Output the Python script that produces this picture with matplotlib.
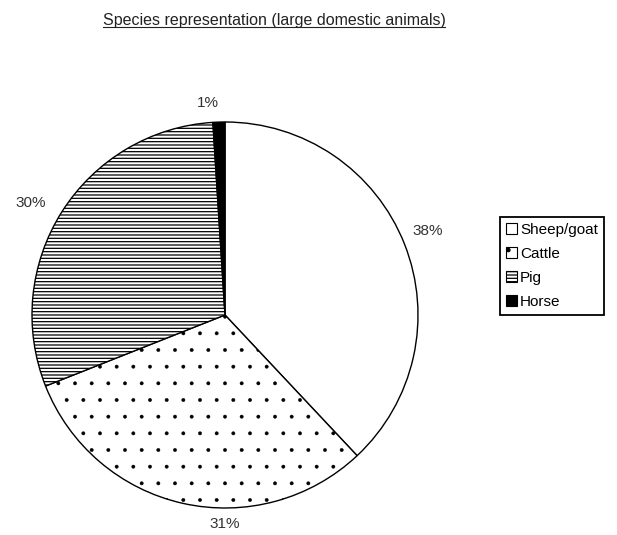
import matplotlib.pyplot as plt
from matplotlib.patches import Patch
from matplotlib.lines import Line2D

plt.rcParams["font.family"] = ["Liberation Sans", "DejaVu Sans"]
plt.rcParams["hatch.linewidth"] = 0.9

species = ["Sheep/goat", "Cattle", "Pig", "Horse"]
shares = [38, 31, 30, 1]
hatches = ["", ".", "-----", ""]
colors = ["white", "white", "white", "black"]
# label spots in pie-radius units (Excel put them a bit off the mid angles)
label_xy = [(1.05, 0.435), (0.0, -1.083), (-1.005, 0.58), (-0.088, 1.10)]

W, H = 617, 535
cx, cy, r = 225, 315, 193

fig = plt.figure(figsize=(W / 100, H / 100), dpi=100)
ax = fig.add_axes([0, 0, 1, 1])

wedges, _ = ax.pie(shares, startangle=90, counterclock=False, radius=1,
                   colors=colors, wedgeprops=dict(edgecolor="black", linewidth=1))
for w, h in zip(wedges, hatches):
    w.set_hatch(h)
# the dots are tiny in the original
if hasattr(wedges[1], "set_hatch_linewidth"):
    wedges[1].set_hatch_linewidth(0.3)
ax.set_aspect("auto")
ax.set_xlim(-cx / r, (W - cx) / r)
ax.set_ylim(-(H - cy) / r, cy / r)
ax.axis("off")

for v, (x, y) in zip(shares, label_xy):
    ax.text(x, y, f"{v}%", ha="center", va="center", fontsize=11, color="#333333")

# title, underlined
t = fig.text(274 / W, 1 - 20 / H, "Species representation (large domestic animals)",
             ha="center", va="center", fontsize=11.5, color="#222222")
fig.canvas.draw()
bb = t.get_window_extent(fig.canvas.get_renderer())
fig.add_artist(Line2D([bb.x0 / W, bb.x1 / W], [(bb.y0 + 1) / H] * 2,
                      color="#222222", linewidth=0.8, transform=fig.transFigure))

handles = [Patch(facecolor=c, edgecolor="black", hatch=h, linewidth=0.8)
           for c, h in zip(colors, hatches)]
leg = fig.legend(handles, species, loc="upper left",
                 bbox_to_anchor=(500 / W, 1 - 217 / H), fontsize=11,
                 handlelength=0.7, handleheight=0.7, handletextpad=0.2,
                 labelspacing=0.65, borderpad=0.4, borderaxespad=0,
                 fancybox=False, framealpha=1)
leg.get_frame().set_edgecolor("black")
leg.get_frame().set_linewidth(1.3)

fig.savefig("out.png", dpi=100)
